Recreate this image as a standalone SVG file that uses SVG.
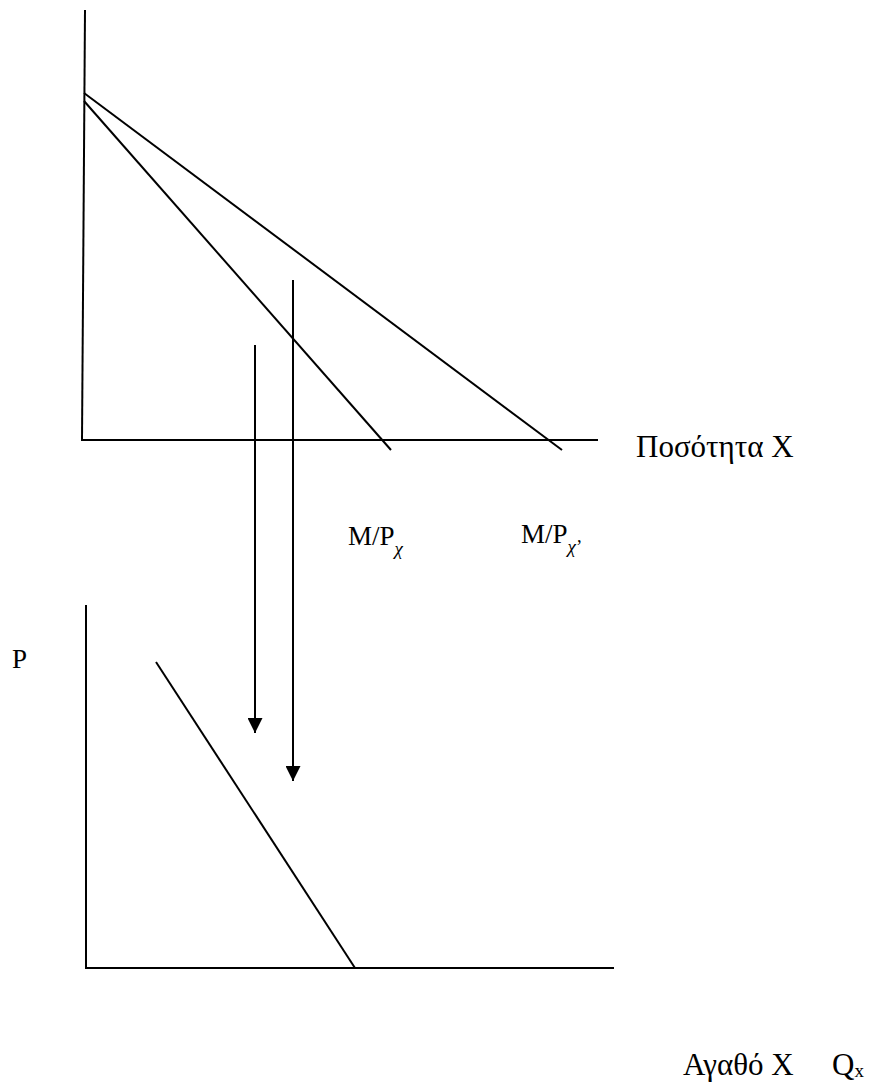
<svg xmlns="http://www.w3.org/2000/svg" width="869" height="1086" viewBox="0 0 869 1086">
<style>
.ln{stroke:#000;stroke-width:2;fill:none}
.t{font-family:"Liberation Serif","DejaVu Serif",serif;font-size:31px;fill:#000}
.m{font-size:27px}
.s{font-size:19px}
.i{font-style:italic}
</style>
<defs>
<marker id="ah" markerWidth="15" markerHeight="15" refX="15" refY="7.5" orient="auto" markerUnits="userSpaceOnUse" viewBox="0 0 15 15">
<path d="M0,0 L15,7.5 L0,15 Z" fill="#000"/>
</marker>
</defs>
<rect width="869" height="1086" fill="#fff"/>
<g id="top-chart">
<line class="ln" x1="85" y1="10" x2="82" y2="440"/>
<line class="ln" x1="81" y1="440" x2="598" y2="440"/>
<line class="ln" x1="84" y1="93" x2="562" y2="450"/>
<line class="ln" x1="84" y1="101" x2="391" y2="450"/>
</g>
<g id="bottom-chart">
<line class="ln" x1="86" y1="605" x2="86" y2="969"/>
<line class="ln" x1="86" y1="968" x2="614" y2="968"/>
<line class="ln" x1="156" y1="662" x2="355" y2="968"/>
</g>
<g id="connectors">
<line class="ln" x1="255" y1="345" x2="255" y2="733" marker-end="url(#ah)"/>
<line class="ln" x1="293" y1="280" x2="293" y2="781" marker-end="url(#ah)"/>
</g>
<g id="labels">
<text class="t" x="636" y="457">Ποσότητα X</text>
<text class="t m" x="348" y="545">M/P<tspan class="s i" dy="10">χ</tspan></text>
<text class="t m" x="521" y="543">M/P<tspan class="s i" dy="10">χ</tspan><tspan class="s">’</tspan></text>
<text class="t m" x="12" y="668">P</text>
<text class="t" x="683" y="1075">Αγαθό X</text>
<text class="t" x="832" y="1075">Q<tspan class="s" dy="2">x</tspan></text>
</g>
</svg>
